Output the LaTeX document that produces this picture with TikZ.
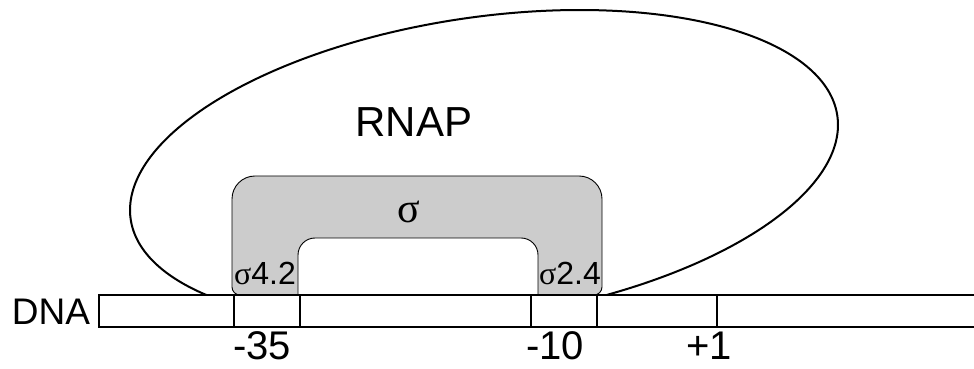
\documentclass[tikz,border=0pt]{standalone}
\usepackage{fontspec}
\setmainfont{Liberation Sans}
\newfontfamily\sigfont{Liberation Serif}
\definecolor{sgrey}{HTML}{CCCCCC}
\begin{document}
\begin{tikzpicture}[x=1pt,y=1pt,
  big/.style={inner sep=0pt, font=\fontsize{42}{44}\selectfont},
  poslabel/.style={inner sep=0pt, font=\fontsize{40}{42}\selectfont},
  mid/.style={inner sep=0pt, font=\fontsize{37}{40}\selectfont},
  small/.style={inner sep=0pt, font=\fontsize{32}{34}\selectfont},
  dnaline/.style={line width=1.2pt},
  rnapline/.style={line width=2pt},
  sigline/.style={line width=0.9pt}]
\useasboundingbox (0,0) rectangle (974,369);
% RNAP ellipse (bottom hidden under DNA)
\draw[rnapline] plot[domain=141.7:429.7, samples=240, smooth]
  ({484+354*cos(\x)}, {201.5-157.5*cos(\x-105.7)});
% sigma factor
\draw[sigline, fill=sgrey] (298,74) -- (298,114) arc[start angle=180, end angle=90, radius=17]
  -- (521,131) arc[start angle=90, end angle=0, radius=17]
  -- (538,74) -- (594,74) arc[start angle=270, end angle=360, radius=8]
  -- (602,170) arc[start angle=0, end angle=90, radius=23]
  -- (255,193) arc[start angle=90, end angle=180, radius=23]
  -- (232,82) arc[start angle=180, end angle=270, radius=8] -- cycle;
% DNA
\draw[dnaline, fill=white] (974,74) -- (99,74) -- (99,42) -- (974,42);
\draw[dnaline] (234,42) rectangle (300,74);
\draw[dnaline] (531,42) rectangle (597,74);
\draw[dnaline] (717,42) -- (717,74);
% labels
\node[mid, anchor=base] (dna) at (51,44) {DNA};
\node[big, anchor=base] (rnap) at (414,232) {RNAP};
\node[big] (sig) at (409,157) {\sigfont σ};
\node[small, anchor=base west] (s42) at (234,84) {\sigfont σ\normalfont 4.2};
\node[small, anchor=base west] (s24) at (539,84) {\sigfont σ\normalfont 2.4};
\node[poslabel, anchor=base] (m35) at (262,9) {-35};
\node[poslabel, anchor=base] (m10) at (555,9) {-10};
\node[poslabel, anchor=base] (p1) at (709,9) {+1};
\end{tikzpicture}
\end{document}
